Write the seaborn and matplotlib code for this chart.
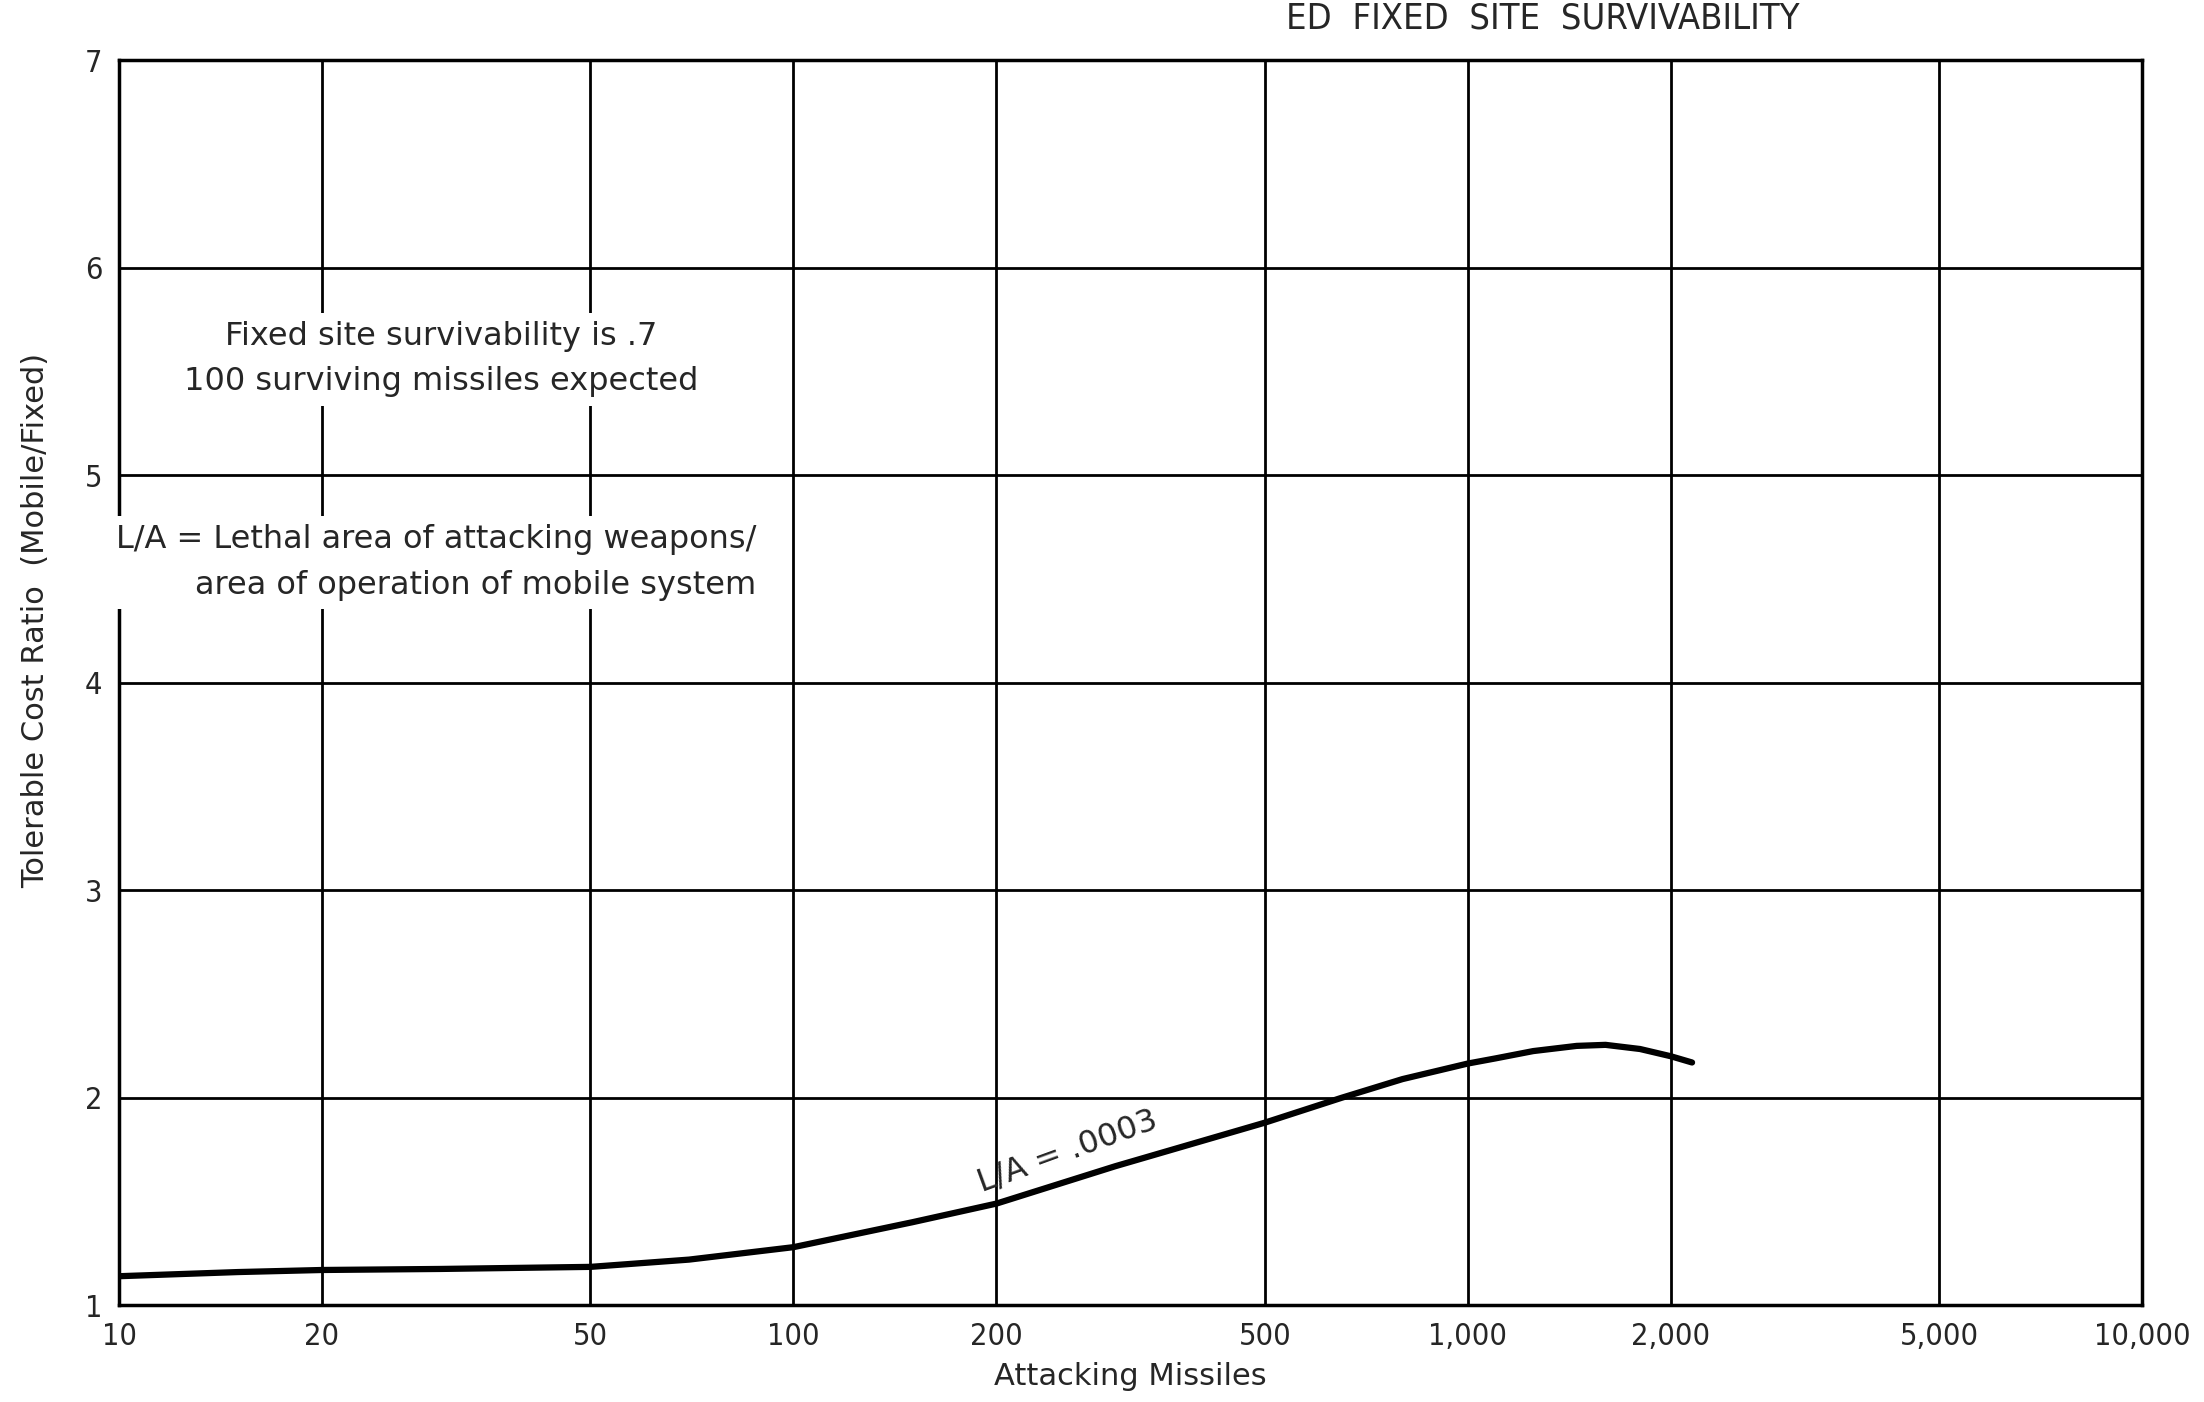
import matplotlib
matplotlib.use("Agg")
import matplotlib.pyplot as plt
import pandas as pd
import seaborn as sns
from matplotlib.ticker import FixedLocator, NullLocator, FixedFormatter

# values (curve L/A = .0003)
attacking_missiles = [10, 15, 20, 30, 50, 70, 100, 150, 200, 300, 500, 650, 800, 1000,
                      1100, 1250, 1450, 1600, 1800, 2000, 2150]
cost_ratio = [1.14, 1.16, 1.17, 1.175, 1.185, 1.22, 1.28, 1.40, 1.49, 1.67, 1.88, 2.00, 2.09, 2.165,
              2.19, 2.225, 2.25, 2.255, 2.235, 2.20, 2.17]

x_ticks = [10, 20, 50, 100, 200, 500, 1000, 2000, 5000, 10000]
x_tick_labels = ["10", "20", "50", "100", "200", "500", "1,000", "2,000", "5,000", "10,000"]
y_ticks = [1, 2, 3, 4, 5, 6, 7]

df = pd.DataFrame({"missiles": attacking_missiles, "ratio": cost_ratio})

sns.set_style("white")
plt.rcParams["font.family"] = ["DejaVu Sans"]

fig = plt.figure(figsize=(22.04, 14.02), dpi=100)
ax = fig.add_axes([0.054, 0.069, 0.918, 0.888])

sns.lineplot(data=df, x="missiles", y="ratio", ax=ax, color="black", linewidth=4.5)

ax.set_xscale("log")
ax.set_xlim(10, 10000)
ax.set_ylim(1, 7)
ax.xaxis.set_major_locator(FixedLocator(x_ticks))
ax.xaxis.set_major_formatter(FixedFormatter(x_tick_labels))
ax.xaxis.set_minor_locator(NullLocator())
ax.set_yticks(y_ticks)
ax.grid(True, color="black", linewidth=2)
for s in ax.spines.values():
    s.set_color("black")
    s.set_linewidth(2.5)
ax.tick_params(axis="both", labelsize=22, length=0, pad=12)
for lab in ax.get_xticklabels() + ax.get_yticklabels():
    lab.set_fontstretch("condensed")

ax.set_xlabel("Attacking Missiles", fontsize=22, labelpad=8)
ax.set_ylabel("Tolerable Cost Ratio  (Mobile/Fixed)", fontsize=22, labelpad=14)
ax.yaxis.set_label_coords(-0.034, 0.55)

box = dict(facecolor="white", edgecolor="none", pad=6)
ax.text(30, 5.56, "Fixed site survivability is .7\n100 surviving missiles expected",
        fontsize=23, ha="center", va="center", linespacing=1.6, bbox=box)
ax.text(88, 4.58, "L/A = Lethal area of attacking weapons/\narea of operation of mobile system",
        fontsize=23, ha="right", va="center", multialignment="right", linespacing=1.6, bbox=box)
ax.text(255, 1.74, "L/A = .0003", fontsize=23, rotation=20, ha="center", va="center")

fig.text(0.70, 0.999, "ED  FIXED  SITE  SURVIVABILITY", fontsize=26, ha="center", va="top",
         fontstretch="condensed")

fig.savefig("out.png", dpi=100)
